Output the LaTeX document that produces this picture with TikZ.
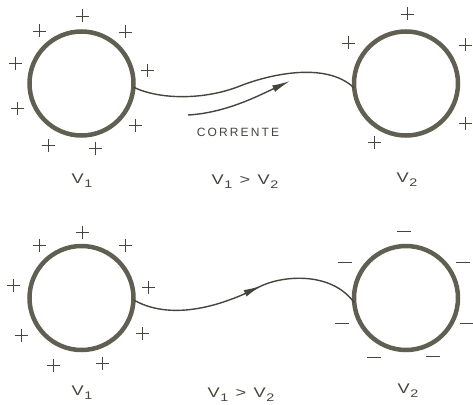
\documentclass[tikz,border=0pt]{standalone}
\usepackage{fontspec}
\setmainfont{Liberation Sans}
\newfontfamily\widesans[FakeStretch=1.3]{Liberation Sans}
\usetikzlibrary{arrows.meta,decorations.markings}
\definecolor{ink}{HTML}{45453C}
\definecolor{shell}{HTML}{605F52}
\newcommand{\pot}[1]{V\kern0.5pt\raisebox{-4pt}{\fontsize{11}{11}\selectfont #1}}

\begin{document}
\begin{tikzpicture}[x=1pt, y=-1pt, >={Latex[length=18pt,width=7pt]},
  conductor/.style={circle, draw=shell, line width=4.5pt, minimum size=104pt, inner sep=0pt, outer sep=0pt},
  wire/.style={draw=ink, line width=1.4pt},
  charge/.style={draw=ink, line width=0.9pt},
  potlabel/.style={text=ink, inner sep=0pt, font=\widesans\fontsize{14}{14}\selectfont}]
\useasboundingbox (0,0) rectangle (473,404);
\node[conductor] (c1) at (81.5,83.5) {};
\node[conductor] (c2) at (406,83.5) {};
\node[conductor] (c3) at (81.5,298) {};
\node[conductor] (c4) at (406,298) {};
\draw[wire] (c1.-4) .. controls (160,100) and (205,100) .. (240,86) .. controls (265,76) and (325,60) .. (c2.185);
\coordinate (i0) at (188,115);
\coordinate (i1) at (290,81);
\draw[wire, ->] (i0) .. controls (225,113) and (258,96) .. (i1);
\coordinate (m) at (259,287);
\draw[wire, decoration={markings, mark=at position 0.57 with {\arrow{>}}}, postaction={decorate}]
  (c3.-2) .. controls (165,318) and (210,312) .. (m) .. controls (280,276) and (330,270) .. (c4.185);
\foreach \x/\y in {82/16, 39/31, 125/32, 15/63, 147/70, 17/108, 135/125, 48/145, 95/148,
  407/14, 348/43, 465/45, 465/123, 374/142,
  82/232, 39/245, 125/245, 13/285, 148/287, 21/335, 142/333, 53/365, 102/363}
  \draw[charge] (\x-6.5,\y) -- (\x+6.5,\y) (\x,\y-6.5) -- (\x,\y+6.5);
\foreach \x/\y in {404/231, 345/262, 463/262, 342/323, 467/323, 374/357, 433/356}
  \draw[charge] (\x-7,\y) -- (\x+7,\y);
\node[text=ink, font=\fontsize{12}{12}\selectfont\addfontfeature{LetterSpace=18}] (cur) at (238,132) {CORRENTE};
\node[potlabel] (v1a) at (82,181) {\pot{1}};
\node[potlabel] (v2a) at (407,180) {\pot{2}};
\node[potlabel] (cmpa) at (245,182) {\pot{1}\, > \,\pot{2}};
\node[potlabel] (v1b) at (82,393) {\pot{1}};
\node[potlabel] (v2b) at (408,391) {\pot{2}};
\node[potlabel] (cmpb) at (241,395) {\pot{1}\, > \,\pot{2}};
\end{tikzpicture}
\end{document}
